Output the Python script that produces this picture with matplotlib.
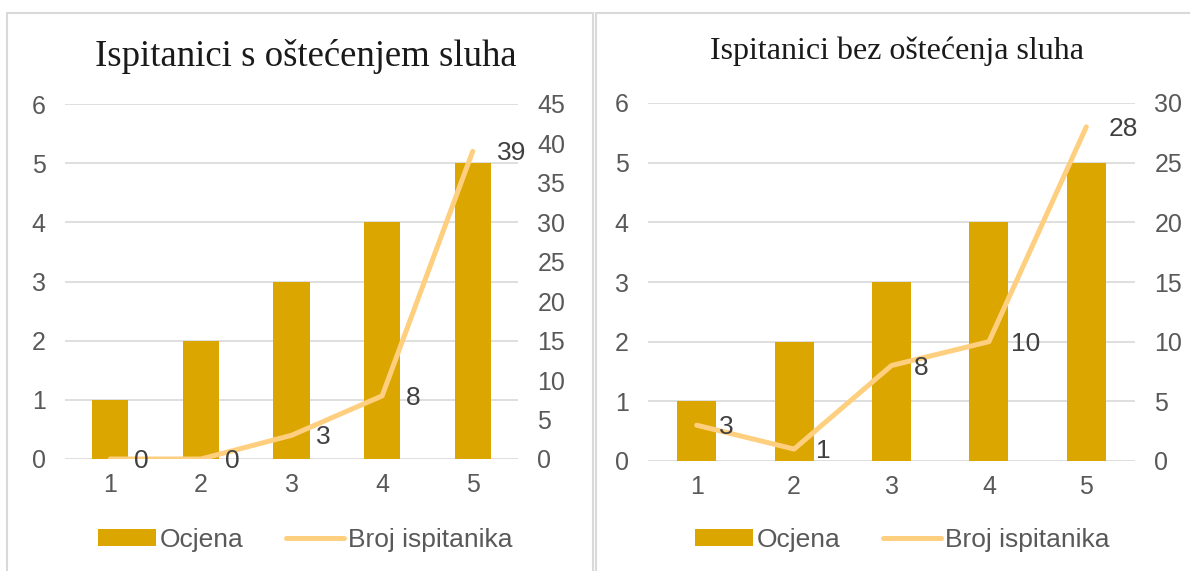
import matplotlib.pyplot as plt
from matplotlib.patches import Rectangle

# Data
categories = [1, 2, 3, 4, 5]
ocjena = [1, 2, 3, 4, 5]
broj_ostecenje = [0, 0, 3, 8, 39]
broj_bez = [3, 1, 8, 10, 28]

titles = ["Ispitanici s oštećenjem sluha", "Ispitanici bez oštećenja sluha"]

bar_color = "#DCA600"
line_color = "#FFCF80"
grid_color = "#D9D9D9"
tick_color = "#595959"
label_color = "#404040"
fs = 18

W, H = 1190, 571
fig = plt.figure(figsize=(W / 100, H / 100), dpi=100)
plt.rcParams['font.family'] = ['Liberation Sans', 'DejaVu Sans']


def px_axes(x0, y_top, x1, y_bot):
    # axes from pixel box (origin top-left)
    return fig.add_axes([x0 / W, (H - y_bot) / H, (x1 - x0) / W, (y_bot - y_top) / H])


def draw_panel(box, title, title_pos, title_size, counts, y2_max, y2_step,
               label_off, legend_x):
    ax = px_axes(*box)
    ax.bar(categories, ocjena, width=0.4, color=bar_color, label="Ocjena", zorder=2)
    ax.set_xlim(0.5, 5.5)
    ax.set_ylim(0, 6)
    ax.set_yticks(range(0, 7))
    ax.set_xticks(categories)
    ax.grid(axis='y', color=grid_color, lw=1.2, zorder=0)
    ax.set_axisbelow(True)
    for s in ax.spines.values():
        s.set_visible(False)
    ax.tick_params(axis='y', length=0, pad=14, labelsize=fs, labelcolor=tick_color)
    ax.tick_params(axis='x', length=0, pad=10, labelsize=fs, labelcolor=tick_color)

    ax2 = ax.twinx()
    ln, = ax2.plot(categories, counts, color=line_color, lw=3.6,
                   solid_capstyle='round', solid_joinstyle='round',
                   label="Broj ispitanika", zorder=3)
    ax2.set_ylim(0, y2_max)
    ax2.set_yticks(range(0, y2_max + 1, y2_step))
    for s in ax2.spines.values():
        s.set_visible(False)
    ax2.tick_params(axis='y', length=0, pad=14, labelsize=fs, labelcolor=tick_color)

    for x, v in zip(categories, counts):
        ax2.annotate(str(v), (x, v), xytext=(label_off, -2), textcoords='offset pixels',
                     ha='left', va='center', fontsize=fs + 1, color=label_color)

    fig.text(title_pos[0] / W, (H - title_pos[1]) / H, title, ha='center', va='center',
             fontsize=title_size, family='Liberation Serif', color='#1A1A1A')

    handles = [ax.patches[0], ln]
    fig.legend(handles, ["Ocjena", "Broj ispitanika"], loc='center',
               bbox_to_anchor=(legend_x / W, (H - 540) / H), ncol=2, frameon=False,
               fontsize=fs + 1, labelcolor=tick_color, handlelength=2.2,
               handleheight=0.6, columnspacing=1.6, handletextpad=0.15)


draw_panel((65, 104, 518, 459), titles[0], (306, 56), 26.5, broj_ostecenje, 45, 5, 24, 305)
draw_panel((648, 103, 1135, 461), titles[1], (897, 51), 23, broj_bez, 30, 5, 22, 902)

# chart area borders
for x0, x1 in [(7, 593), (596, 1200)]:
    fig.patches.append(Rectangle((x0 / W, -0.05), (x1 - x0) / W, (H - 13) / H + 0.05,
                                 transform=fig.transFigure, fill=False,
                                 edgecolor=grid_color, lw=1.5))

fig.savefig("out.png", dpi=100)
